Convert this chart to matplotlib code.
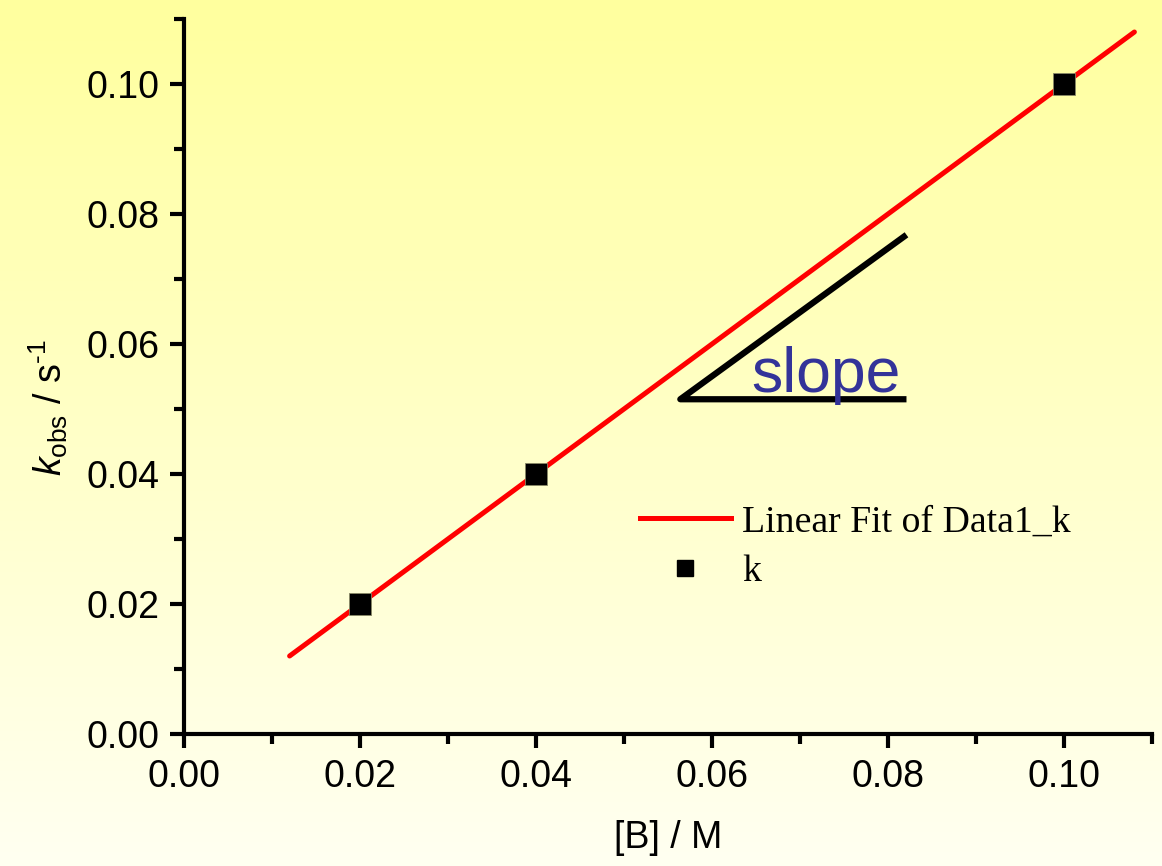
import numpy as np
import matplotlib
matplotlib.use("Agg")
import matplotlib.pyplot as plt
from matplotlib.lines import Line2D

# data
conc_B = [0.02, 0.04, 0.10]
k_obs = [0.02, 0.04, 0.10]
fit_x = [0.012, 0.108]
fit_slope = 1.0
fit_intercept = 0.0
slope_tri_x = [0.0821, 0.0564, 0.0821]
slope_tri_y = [0.0768, 0.0515, 0.0515]
xticks = [0.00, 0.02, 0.04, 0.06, 0.08, 0.10]
yticks = [0.00, 0.02, 0.04, 0.06, 0.08, 0.10]

plt.rcParams['mathtext.fontset'] = 'custom'
plt.rcParams['mathtext.rm'] = 'Liberation Sans'
plt.rcParams['mathtext.it'] = 'Liberation Sans:italic'
plt.rcParams['font.family'] = ['Liberation Sans', 'DejaVu Sans']

W, H = 1162, 866
fig = plt.figure(figsize=(W / 100, H / 100), dpi=100)

# background gradient
bg = fig.add_axes([0, 0, 1, 1], zorder=-10)
top = np.array([1.0, 1.0, 0.62])
bot = np.array([1.0, 1.0, 0.945])
t = np.linspace(0, 1, 256)[:, None]
grad = top[None, :] * (1 - t) + bot[None, :] * t
bg.imshow(grad[:, None, :], aspect='auto', extent=[0, 1, 0, 1])
bg.axis('off')

ax = fig.add_axes([184 / W, 1 - 734 / H, (1152 - 184) / W, (734 - 19) / H])
ax.patch.set_alpha(0)

fx = np.array(fit_x)
ax.plot(fx, fit_slope * fx + fit_intercept, color='red', lw=3.6,
        solid_capstyle='round', zorder=2, label='Linear Fit of Data1_k')
ax.plot(conc_B, k_obs, 's', color='black', ms=16, mec='#888866', mew=0.6,
        zorder=3, linestyle='none', label='k')

ax.plot(slope_tri_x, slope_tri_y, color='black', lw=4.5,
        solid_capstyle='butt', solid_joinstyle='round', zorder=2)
ax.text(0.0645, 0.0526, 'slope', color='#333399', fontsize=45,
        ha='left', va='baseline', family='Liberation Sans')

ax.set_xlim(0, 0.11)
ax.set_ylim(0, 0.11)
ax.set_xticks(xticks)
ax.set_yticks(yticks)
ax.set_xticklabels([f'{v:.2f}' for v in xticks])
ax.set_yticklabels([f'{v:.2f}' for v in yticks])
ax.set_xticks(np.arange(0.01, 0.111, 0.02), minor=True)
ax.set_yticks(np.arange(0.01, 0.111, 0.02), minor=True)
for s in ['top', 'right']:
    ax.spines[s].set_visible(False)
for s in ['left', 'bottom']:
    ax.spines[s].set_linewidth(3)
ax.tick_params(which='major', direction='out', length=10, width=3,
               labelsize=27, pad=8)
ax.tick_params(which='minor', direction='out', length=7, width=3)

handles = [Line2D([], [], color='red', lw=3.6),
           Line2D([], [], marker='s', color='black', ms=11, ls='none')]
leg = ax.legend(handles, ['Linear Fit of Data1_k', 'k'],
                prop={'family': 'Liberation Serif', 'size': 27.2},
                frameon=False, loc='upper left',
                bbox_to_anchor=((640 - 184) / (1152 - 184), (734 - 505) / (734 - 19)),
                handlelength=2.4, handletextpad=0.3, labelspacing=0.4,
                borderaxespad=0, borderpad=0)

fig.text(668 / W, 1 - 838 / H, '[B] / M', fontsize=27, ha='center', va='center')
fig.text(48 / W, 1 - 408 / H, r'$k_{\mathrm{obs}}$ / s$^{\text{-1}}$',
         fontsize=27, rotation=90, ha='center', va='center')

fig.savefig('out.png', dpi=100)
